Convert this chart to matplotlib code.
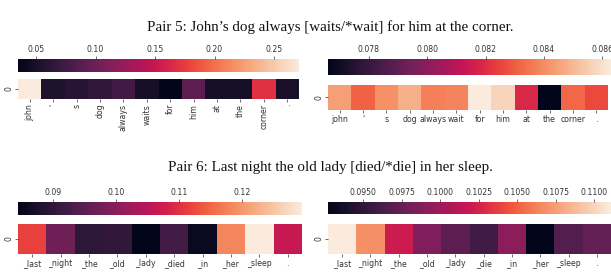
import matplotlib
matplotlib.use("Agg")
import matplotlib.pyplot as plt
import numpy as np
import seaborn as sns

W, H = 611, 279

# Pair 5
tokens_5a = ["john", "'", "s", "dog", "always", "waits", "for", "him", "at", "the", "corner", "."]
attn_5a = [0.271, 0.0537, 0.0584, 0.0655, 0.076, 0.049, 0.0348, 0.0915, 0.049, 0.049, 0.1694, 0.0513]
ticks_5a = [0.05, 0.10, 0.15, 0.20, 0.25]

tokens_5b = ["john", "'", "s", "dog", "always", "wait", "for", "him", "at", "the", "corner", "."]
attn_5b = [0.0844, 0.0831, 0.0841, 0.0848, 0.0837, 0.0838, 0.0863, 0.0857, 0.0819, 0.0766, 0.0832, 0.0826]
ticks_5b = [0.078, 0.080, 0.082, 0.084, 0.086]

# Pair 6
tokens_6a = ["_last", "_night", "_the", "_old", "_lady", "_died", "_in", "_her", "_sleep", "."]
attn_6a = [0.1115, 0.0970, 0.0898, 0.0903, 0.0844, 0.0925, 0.0858, 0.1182, 0.1295, 0.1065]
ticks_6a = [0.09, 0.10, 0.11, 0.12]

tokens_6b = ["_last", "_night", "_the", "_old", "_lady", "_die", "_in", "_her", "_sleep", "."]
attn_6b = [0.1111, 0.1068, 0.1019, 0.0986, 0.0971, 0.0958, 0.0991, 0.0927, 0.0966, 0.0975]
ticks_6b = [0.0950, 0.0975, 0.1000, 0.1025, 0.1050, 0.1075, 0.1100]

titulo_5 = "Pair 5: John\u2019s dog always [waits/*wait] for him at the corner."
titulo_6 = "Pair 6: Last night the old lady [died/*die] in her sleep."

TXT = "#333333"
FS = 5.6


def _eixo(fig, x0, y0, x1, y1):
    # retângulo em pixels (origem no topo) -> fração da figura
    return fig.add_axes([x0 / W, 1 - y1 / H, (x1 - x0) / W, (y1 - y0) / H])


def _painel(fig, cbar_px, heat_px, tokens, valores, ticks, fmt, rot):
    cax = _eixo(fig, *cbar_px)
    ax = _eixo(fig, *heat_px)
    dados = np.array(valores)[None, :]
    sns.heatmap(dados, ax=ax, cbar_ax=cax, cmap="rocket",
                xticklabels=tokens, yticklabels=["0"],
                cbar_kws={"orientation": "horizontal"})
    ax.tick_params(axis="both", labelsize=FS, colors=TXT, length=2, width=0.5, pad=1.5)
    ax.set_xticklabels(tokens, rotation=rot)
    ax.set_yticklabels(["0"], rotation=90, va="center")
    cax.xaxis.set_ticks_position("top")
    cax.set_xticks(ticks)
    cax.set_xticklabels([fmt.format(t) for t in ticks])
    cax.tick_params(axis="x", labelsize=FS, colors=TXT, length=2, width=0.5, pad=1.5)


fig = plt.figure(figsize=(W / 100, H / 100), dpi=100)
fig.patch.set_facecolor("white")

fig.text(330 / W, 1 - 27 / H, titulo_5, ha="center", va="center",
         family="Liberation Serif", fontsize=10.8, color="#111111")
fig.text(330 / W, 1 - 168 / H, titulo_6, ha="center", va="center",
         family="Liberation Serif", fontsize=10.8, color="#111111")

_painel(fig, (18, 59, 299, 72), (18, 79, 299, 99), tokens_5a, attn_5a, ticks_5a, "{:.2f}", 90)
_painel(fig, (328, 59, 611, 75), (328, 85, 608, 110), tokens_5b, attn_5b, ticks_5b, "{:.3f}", 0)
_painel(fig, (18, 202, 302, 215), (18, 224, 302, 254), tokens_6a, attn_6a, ticks_6a, "{:.2f}", 0)
_painel(fig, (328, 202, 611, 214), (328, 224, 611, 254), tokens_6b, attn_6b, ticks_6b, "{:.4f}", 0)

plt.savefig("out.png", dpi=100)
plt.close()
